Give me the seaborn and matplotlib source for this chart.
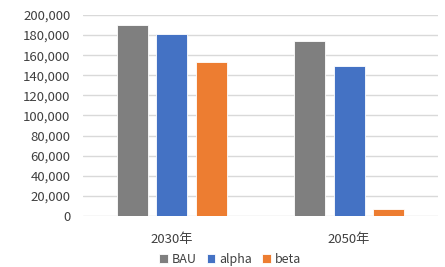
import pandas as pd
import seaborn as sns
from matplotlib import pyplot as plt
from matplotlib.ticker import FuncFormatter

# data
years = ["2030年", "2050年"]
scenarios = ["BAU", "alpha", "beta"]
bau = [190000, 174000]
alpha = [181000, 149000]
beta = [153000, 7000]
colors = ["#7f7f7f", "#4472c4", "#ed7d31"]

df = pd.DataFrame({
    "year": years * 3,
    "scenario": [s for s in scenarios for _ in years],
    "value": bau + alpha + beta,
})

sns.set_theme(style="white")
plt.rcParams["font.family"] = ["Noto Sans CJK JP", "DejaVu Sans"]

fig = plt.figure(figsize=(4.45, 2.67), dpi=100)
ax = fig.add_axes([0.1865, 0.191, 0.7975, 0.753])

sns.barplot(data=df, x="year", y="value", hue="scenario", palette=colors,
            saturation=1, width=0.667, gap=0.21, ax=ax, legend=True,
            edgecolor="white", linewidth=0.6)

ax.set_ylim(0, 200000)
ax.set_xlim(-0.5, 1.5)
ax.set_yticks(range(0, 200001, 20000))
ax.yaxis.set_major_formatter(FuncFormatter(lambda v, p: f"{int(v):,}"))
ax.grid(axis="y", color="#d9d9d9", linewidth=1)
ax.set_axisbelow(True)
for s in ax.spines.values():
    s.set_visible(False)
ax.tick_params(axis="both", length=0, labelsize=9.5, colors="#404040")
ax.tick_params(axis="y", pad=9)
ax.tick_params(axis="x", pad=12)
ax.set_xlabel("")
ax.set_ylabel("")

ax.legend(loc="center", bbox_to_anchor=(0.414, -0.215), ncol=3, frameon=False,
          fontsize=9, handlelength=0.7, handleheight=0.7, handletextpad=0.3,
          columnspacing=0.8, labelcolor="#404040")

fig.savefig("out.png", dpi=100)
